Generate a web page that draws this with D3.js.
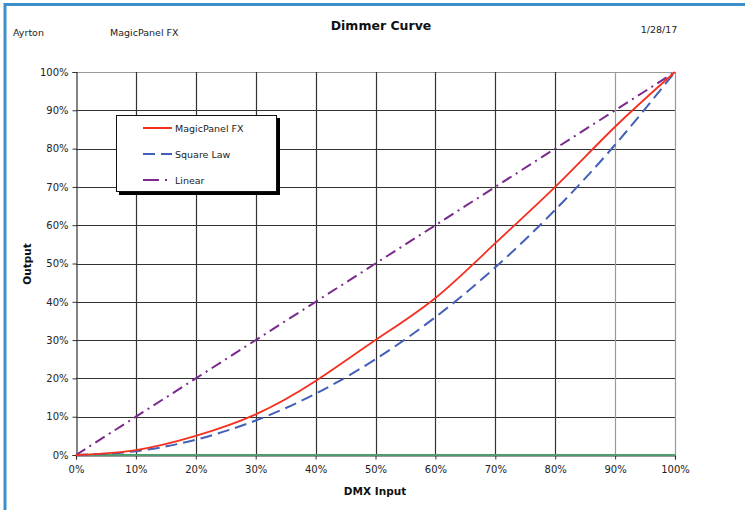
<!DOCTYPE html>
<html><head><meta charset="utf-8">
<script src="https://cdn.jsdelivr.net/npm/d3@7"></script>
<style>body{margin:0;background:#fff}svg{display:block}text{font-family:"DejaVu Sans",Verdana,sans-serif}</style>
</head><body><svg id="c" width="745" height="510"></svg>
<script>
const inputs = [0,10,20,30,40,50,60,70,80,90,100];
const magicPanel = [0,1.3,5,10.6,19.3,30,41,55.3,70,85.7,100];
const squareLaw = [0,1,4,9,16,25,36,49,64,81,100];
const linear = [0,10,20,30,40,50,60,70,80,90,100];
const baseline = [0,0,0,0,0,0,0,0,0,0,0];
const tickValues = [0,10,20,30,40,50,60,70,80,90,100];
const seriesNames = ["MagicPanel FX","Square Law","Linear"];

const svg = d3.select("#c");
// frame
svg.append("rect").attr("x",5).attr("y",4.5).attr("width",800).attr("height",600)
  .attr("fill","none").attr("stroke","#3d8fca").attr("stroke-width",3);

const x = d3.scaleLinear().domain([0,100]).range([76,675]);
const y = d3.scaleLinear().domain([0,100]).range([455,72]);

// header texts
svg.append("text").attr("x",13).attr("y",36).attr("font-size",9.5).attr("fill","#222").text("Ayrton");
svg.append("text").attr("x",110).attr("y",36).attr("font-size",9.5).attr("fill","#222").text("MagicPanel FX");
svg.append("text").attr("x",381).attr("y",30).attr("text-anchor","middle").attr("font-size",12.5).attr("font-weight","bold").attr("fill","#111").text("Dimmer Curve");
svg.append("text").attr("x",659).attr("y",33).attr("text-anchor","middle").attr("font-size",9.5).attr("fill","#222").text("1/28/17");

// grid
const g = svg.append("g");
g.selectAll(".hg").data(tickValues).join("line")
  .attr("x1",x(0)).attr("x2",x(100)).attr("y1",d=>Math.round(y(d))+0.5).attr("y2",d=>Math.round(y(d))+0.5)
  .attr("stroke",d=>d===100?"#999":"#333").attr("stroke-width",1.2);
g.selectAll(".vg").data(tickValues.slice(1)).join("line")
  .attr("y1",y(100)).attr("y2",y(0)).attr("x1",d=>Math.round(x(d))+0.5).attr("x2",d=>Math.round(x(d))+0.5)
  .attr("stroke",d=>d>=90?"#999":"#333").attr("stroke-width",1.2);

// axes
const fmt = d=>d+"%";
const ya = svg.append("g").attr("transform",`translate(${x(0)+0.5},0)`)
  .call(d3.axisLeft(y).tickValues(tickValues).tickFormat(fmt).tickSize(4).tickPadding(4));
const xa = svg.append("g").attr("transform",`translate(0,${y(0)+0.5})`)
  .call(d3.axisBottom(x).tickValues(tickValues).tickFormat(fmt).tickSize(4).tickPadding(6));
[ya,xa].forEach(a=>{
  a.select(".domain").attr("stroke","#333").attr("stroke-width",1.2);
  a.selectAll(".tick line").attr("stroke","#333");
  a.selectAll("text").attr("font-size",10).attr("fill","#222").attr("font-family","DejaVu Sans, Verdana, sans-serif");
});

svg.append("text").attr("x",375).attr("y",495).attr("text-anchor","middle").attr("font-size",10.5).attr("font-weight","bold").attr("fill","#111").text("DMX Input");
svg.append("text").attr("transform","translate(31,264) rotate(-90)").attr("text-anchor","middle").attr("font-size",10.5).attr("font-weight","bold").attr("fill","#111").text("Output");

const line = d3.line().x((d,i)=>x(inputs[i])).y(d=>y(d)).curve(d3.curveNatural);
svg.append("path").datum(baseline).attr("d",line).attr("fill","none").attr("stroke","#4f9d6e").attr("stroke-width",2);
svg.append("path").datum(linear).attr("d",line).attr("fill","none").attr("stroke","#7a2a8c").attr("stroke-width",2).attr("stroke-dasharray","11,5,2,5");
svg.append("path").datum(squareLaw).attr("d",line).attr("fill","none").attr("stroke","#4260b8").attr("stroke-width",2).attr("stroke-dasharray","12,6");
svg.append("path").datum(magicPanel).attr("d",line).attr("fill","none").attr("stroke","#f53020").attr("stroke-width",1.8);

// legend
const lg = svg.append("g");
lg.append("rect").attr("x",119).attr("y",118).attr("width",161).attr("height",77).attr("fill","#000");
lg.append("rect").attr("x",116.5).attr("y",115.5).attr("width",160).attr("height",76).attr("fill","#fff").attr("stroke","#111").attr("stroke-width",1);
const ls = [{c:"#f53020",d:null},{c:"#4260b8",d:"12,6"},{c:"#7a2a8c",d:"16,6,2,6"}];
seriesNames.forEach((n,i)=>{
  const yy = 128 + i*26;
  lg.append("line").attr("x1",143).attr("x2",172).attr("y1",yy).attr("y2",yy)
    .attr("stroke",ls[i].c).attr("stroke-width",2).attr("stroke-dasharray",ls[i].d);
  lg.append("text").attr("x",175).attr("y",yy+3.5).attr("font-size",9.5).attr("fill","#222").text(n);
});
</script></body></html>
